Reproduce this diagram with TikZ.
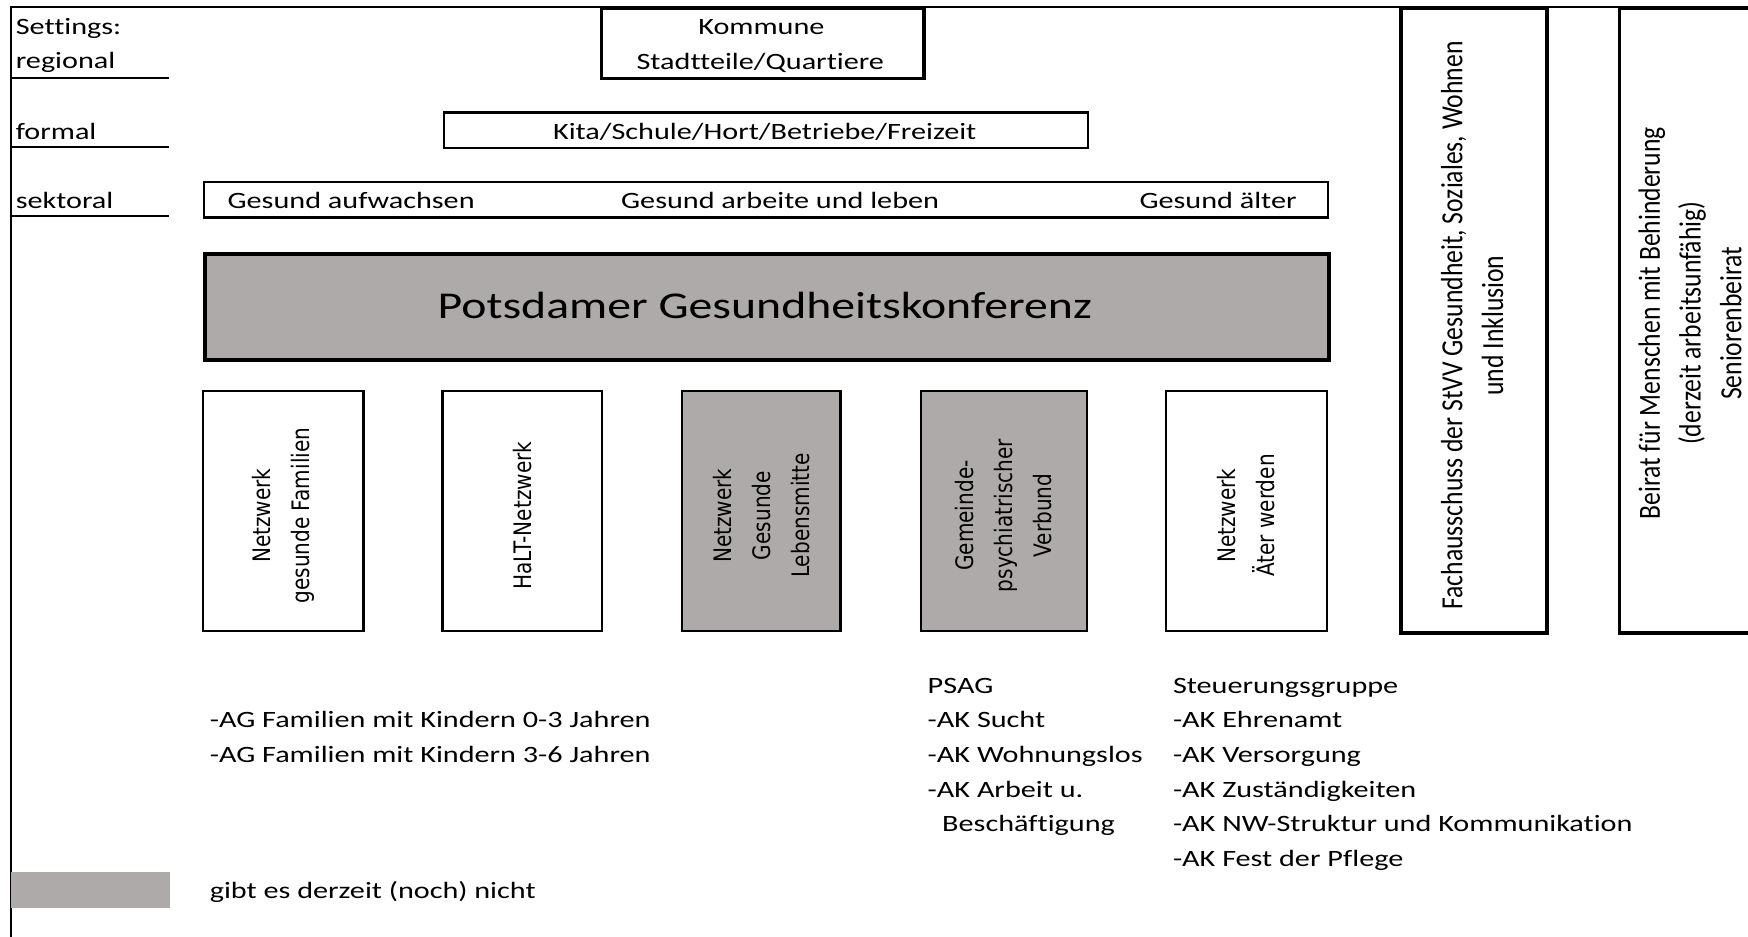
\documentclass[tikz,border=0pt]{standalone}
\usepackage{fontspec}
\setmainfont{Carlito}[Ligatures=NoCommon]
\newfontfamily\verdfont{DejaVu Sans}
\definecolor{grau}{HTML}{AEAAAA}
\newcommand\hs[1]{\scalebox{1.29}[1]{#1}}
\newcommand\hsb[1]{\scalebox{1.26}[1]{#1}}
\newcommand\vs[1]{\scalebox{1}[1.2]{#1}}
\tikzset{
  thinbox/.style={draw, line width=2pt, inner sep=0pt, anchor=north west},
  thickbox/.style={draw, line width=3.2pt, inner sep=0pt, anchor=north west},
  txt/.style={inner sep=0pt, font=\fontsize{21}{24}\selectfont},
  netbox/.style={draw, line width=2pt, minimum width=144pt, minimum height=215pt, inner sep=0pt},
  nettext/.style={rotate=90, inner sep=0pt, align=center, font=\verdfont\fontsize{18}{35}\selectfont},
  sidetext/.style={rotate=90, align=center, inner sep=0pt, font=\fontsize{23}{36.5}\selectfont},
  uline/.style={line width=2pt},
}
\begin{document}
\begin{tikzpicture}[x=1pt,y=-1pt]
\useasboundingbox (0,0) rectangle (1568,840);
% frame
\draw[line width=1.5pt] (1575,6) -- (10,6) -- (10,845);
% left labels
\node[txt, anchor=base west] (settings) at (14,31) {\hs{Settings:}};
\node[txt, anchor=base west] (regional) at (14,61) {\hs{regional}};
\node[txt, anchor=base west] (formal) at (14,125) {\hs{formal}};
\node[txt, anchor=base west] (sektoral) at (14,187) {\hs{sektoral}};
\draw[uline] (10,70) -- (152,70);
\draw[uline] (10,132) -- (152,132);
\draw[uline] (10,194) -- (152,194);
% top boxes
\node[thickbox, minimum width=289pt, minimum height=63pt] (kommune) at (538,6) {};
\node[txt, anchor=base] (kommune1) at (683,31) {\hs{Kommune}};
\node[txt, anchor=base] (kommune2) at (682,62) {\hs{Stadtteile/Quartiere}};
\node[thinbox, minimum width=578pt, minimum height=32pt] (kita) at (397,100) {};
\node[txt, anchor=base] (kitatext) at (686,125) {\hs{Kita/Schule/Hort/Betriebe/Freizeit}};
\node[thinbox, minimum width=1008pt, minimum height=32pt] (sekt) at (182,162) {};
\node[txt, anchor=base west] (sekt1) at (204,187) {\hs{Gesund aufwachsen}};
\node[txt, anchor=base west] (sekt2) at (557,187) {\hs{Gesund arbeite und leben}};
\node[txt, anchor=base west] (sekt3) at (1022,187) {\hs{Gesund älter}};
% conference
\node[thickbox, line width=4pt, fill=grau, minimum width=1008pt, minimum height=95pt] (pgk) at (182,226) {};
\node[inner sep=0pt, anchor=base, font=\fontsize{34}{40}\selectfont] (pgktext) at (686,286) {\hsb{Potsdamer Gesundheitskonferenz}};
% network boxes
\node[netbox] (nw1) at (254,458.5) {};
\node[nettext] (nw1t) at (254,462.5) {\vs{Netzwerk}\\\vs{gesunde Familien}};
\node[netbox, minimum width=143pt] (nw2) at (468.5,458.5) {};
\node[nettext] (nw2t) at (468.5,462.5) {\vs{HaLT-Netzwerk}};
\node[netbox, fill=grau, minimum width=142pt] (nw3) at (683,458.5) {};
\node[nettext] (nw3t) at (683,462.5) {\vs{Netzwerk}\\\vs{Gesunde}\\\vs{Lebensmitte}};
\node[netbox, fill=grau, minimum width=149pt] (nw4) at (900.5,458.5) {};
\node[nettext] (nw4t) at (900.5,462.5) {\vs{Gemeinde-}\\\vs{psychiatrischer}\\\vs{Verbund}};
\node[netbox] (nw5) at (1118,458.5) {};
\node[nettext] (nw5t) at (1118,462.5) {\vs{Netzwerk}\\\vs{Äter werden}};
% right boxes
\node[thickbox, minimum width=131pt, minimum height=560pt] (fach) at (1255,6) {};
\node[sidetext] (fachtext) at (1320.5,292) {\vs{Fachausschuss der StVV Gesundheit, Soziales, Wohnen}\\\vs{und Inklusion}};
\node[thickbox, minimum width=160pt, minimum height=560pt] (beirat) at (1451,6) {};
\node[sidetext] (beirattext) at (1516,290) {\vs{Beirat für Menschen mit Behinderung}\\\vs{(derzeit arbeitsunfähig)}\\\vs{Seniorenbeirat}};
% lists
\node[txt, anchor=base west] (ag1) at (188,653) {\hs{-AG Familien mit Kindern 0-3 Jahren}};
\node[txt, anchor=base west] (ag2) at (188,684) {\hs{-AG Familien mit Kindern 3-6 Jahren}};
\node[txt, anchor=base west] (psag) at (832,622) {\hs{PSAG}};
\node[txt, anchor=base west] (ps1) at (832,653) {\hs{-AK Sucht}};
\node[txt, anchor=base west] (ps2) at (832,684) {\hs{-AK Wohnungslos}};
\node[txt, anchor=base west] (ps3) at (832,715) {\hs{-AK Arbeit u.}};
\node[txt, anchor=base west] (ps4) at (845,746) {\hs{Beschäftigung}};
\node[txt, anchor=base west] (steu) at (1052,622) {\hs{Steuerungsgruppe}};
\node[txt, anchor=base west] (st1) at (1052,653) {\hs{-AK Ehrenamt}};
\node[txt, anchor=base west] (st2) at (1052,684) {\hs{-AK Versorgung}};
\node[txt, anchor=base west] (st3) at (1052,715) {\hs{-AK Zuständigkeiten}};
\node[txt, anchor=base west] (st4) at (1052,746) {\hs{-AK NW-Struktur und Kommunikation}};
\node[txt, anchor=base west] (st5) at (1052,777) {\hs{-AK Fest der Pflege}};
% legend
\node[fill=grau, inner sep=0pt, anchor=north west, minimum width=142pt, minimum height=32pt] (legbox) at (10,782) {};
\node[txt, anchor=base west] (legtext) at (188,806) {\hs{gibt es derzeit (noch) nicht}};
\end{tikzpicture}
\end{document}
